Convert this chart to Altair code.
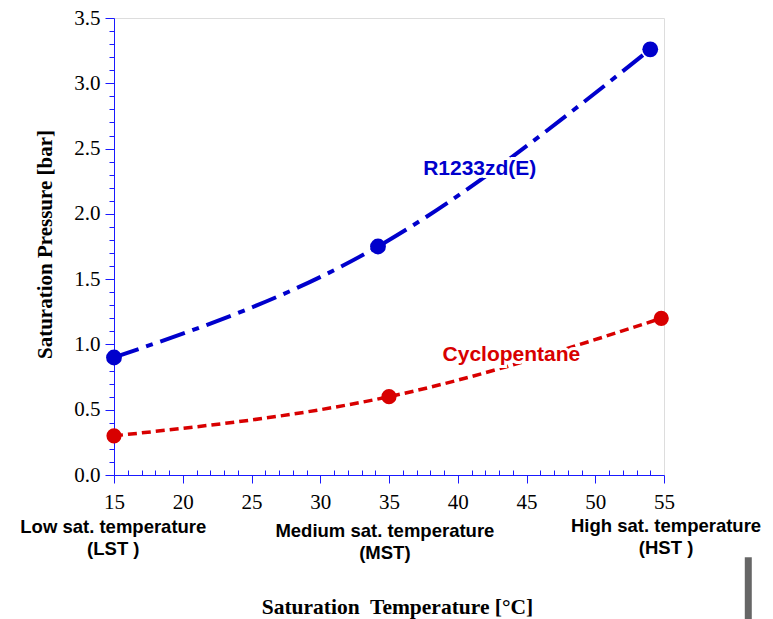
import altair as alt
import pandas as pd

# --- data ---
r1233_temp = [15.0, 34.2, 54.0]
r1233_pres = [0.90, 1.75, 3.26]
cyclo_temp = [15.0, 35.0, 54.8]
cyclo_pres = [0.30, 0.60, 1.20]

series_names = ["R1233zd(E)", "Cyclopentane"]
series_label_x = [41.6, 43.9]
series_label_y = [2.34, 0.92]

cat_text = ["Low sat. temperature\n(LST )", "Medium sat. temperature\n(MST)", "High sat. temperature\n(HST )"]
cat_x = [14.95, 34.7, 55.15]
cat_y = [-0.40, -0.43, -0.39]

x_ticks = list(range(15, 56))
y_ticks = [round(i * 0.1, 1) for i in range(36)]

BLUE = "#0000CC"
RED = "#D80000"
AXIS_BLUE = "#1a1aff"

df_b = pd.DataFrame({"t": r1233_temp, "p": r1233_pres})
df_r = pd.DataFrame({"t": cyclo_temp, "p": cyclo_pres})
df_lab = pd.DataFrame({"name": series_names, "t": series_label_x, "p": series_label_y,
                       "c": [BLUE, RED]})
df_cat = pd.DataFrame({"txt": cat_text, "t": cat_x, "p": cat_y})
df_bar = pd.DataFrame({"t": [61.13], "p": [-0.63], "p2": [-1.2]})

xscale = alt.Scale(domain=[15, 55], nice=False, zero=False)
yscale = alt.Scale(domain=[0, 3.5], nice=False, zero=False)

xaxis = alt.Axis(
    values=x_ticks,
    labelExpr="datum.value % 5 == 0 ? datum.label : ''",
    tickSize={"expr": "datum.value % 5 == 0 ? 8 : -5"},
    tickColor=AXIS_BLUE, domainColor=AXIS_BLUE, tickWidth=1, domainWidth=1,
    labelFont="Liberation Serif", labelFontSize=21, labelColor="black",
    labelPadding=3, labelBaseline="line-top", labelLineHeight=31,
    labelFlush=False, labelOverlap=False,
    grid=False,
    title="Saturation\u00a0 Temperature [°C]",
    titleFont="Liberation Serif", titleFontSize=21.5, titleFontWeight="bold",
    titleColor="black", titleX=283, titleY=138, titleBaseline="alphabetic",
    titleAnchor="middle",
)
yaxis = alt.Axis(
    values=y_ticks,
    labelExpr="abs(datum.value*2 - round(datum.value*2)) < 0.001 ? format(datum.value, '.1f') : ''",
    tickSize={"expr": "abs(datum.value*2 - round(datum.value*2)) < 0.001 ? 9 : 5"},
    tickColor=AXIS_BLUE, domainColor=AXIS_BLUE, tickWidth=1, domainWidth=1,
    labelFont="Liberation Serif", labelFontSize=21, labelColor="black",
    labelPadding=5, labelFlush=False, labelOverlap=False,
    grid=False,
    title="Saturation Pressure [bar]",
    titleFont="Liberation Serif", titleFontSize=21, titleFontWeight="bold",
    titleColor="black", titleX=-63, titleY=226, titleBaseline="alphabetic",
    titleAngle=270,
)

X = alt.X("t:Q", scale=xscale, axis=xaxis)
Y = alt.Y("p:Q", scale=yscale, axis=yaxis)

line_b = alt.Chart(df_b).mark_line(
    interpolate="natural", color=BLUE, strokeWidth=4,
    strokeDash=[26, 8, 7, 8]
).encode(x=X, y=Y)
pts_b = alt.Chart(df_b).mark_circle(size=250, color=BLUE, opacity=1).encode(x=X, y=Y)

line_r = alt.Chart(df_r).mark_line(
    interpolate="natural", color=RED, strokeWidth=3.5,
    strokeDash=[9, 5]
).encode(x=X, y=Y)
pts_r = alt.Chart(df_r).mark_circle(size=230, color=RED, opacity=1).encode(x=X, y=Y)

halo = alt.Chart(df_lab).mark_text(
    font="Liberation Sans", fontSize=21, fontWeight="bold",
    fill="white", stroke="white", strokeWidth=6, baseline="middle", align="center"
).encode(x=X, y=Y, text="name:N")
labels = alt.Chart(df_lab).mark_text(
    font="Liberation Sans", fontSize=21, fontWeight="bold",
    baseline="middle", align="center"
).encode(x=X, y=Y, text="name:N", color=alt.Color("c:N", scale=None))

cats = alt.Chart(df_cat).mark_text(
    font="Liberation Sans", fontSize=18.5, fontWeight="bold", color="black",
    baseline="middle", align="center", lineBreak="\n", lineHeight=22
).encode(x=X, y=Y, text="txt:N")

bar = alt.Chart(df_bar).mark_rule(color="#666666", strokeWidth=7).encode(
    x=X, y=Y, y2="p2:Q"
)

chart = alt.layer(line_r, line_b, halo, labels, pts_b, pts_r, cats, bar).properties(
    width=550, height=457,
    autosize=alt.AutoSizeParams(type="none"),
    padding={"left": 106, "top": 10, "right": 100, "bottom": 144},
).configure_view(stroke=None).configure(background="white")

chart.save("out.html", embed_options={"renderer": "svg", "actions": False})
